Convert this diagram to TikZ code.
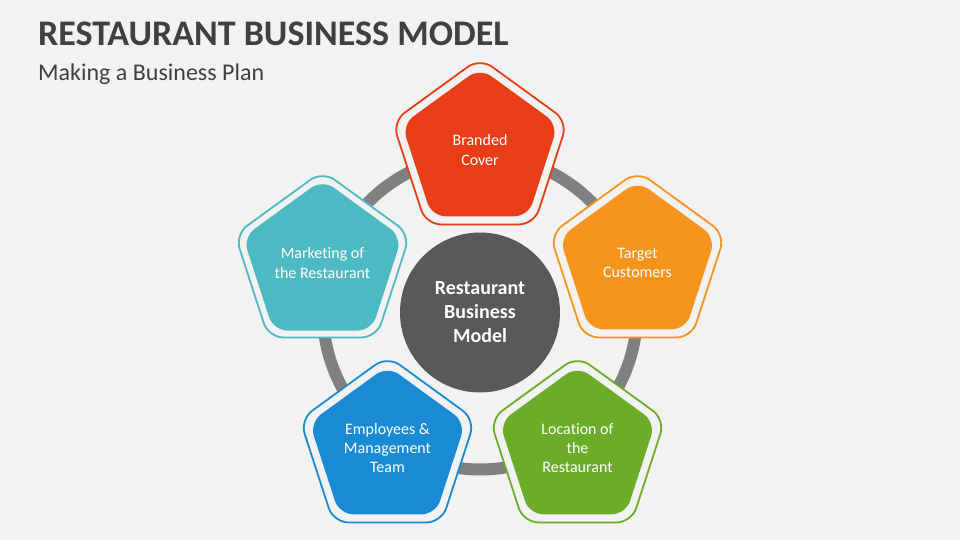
\documentclass[tikz,border=0pt]{standalone}
\usepackage{fontspec}
\setmainfont[Ligatures=NoCommon]{Carlito}
\usetikzlibrary{shapes.geometric}
\definecolor{bg}{HTML}{F2F2F2}
\definecolor{titlegray}{HTML}{404040}
\definecolor{ringgray}{HTML}{808080}
\definecolor{hubgray}{HTML}{595959}
\definecolor{cred}{HTML}{E83D16}
\definecolor{corange}{HTML}{F7941E}
\definecolor{cgreen}{HTML}{6BAD28}
\definecolor{cblue}{HTML}{1A8AD5}
\definecolor{cteal}{HTML}{4DB9C2}
\tikzset{
  penout/.style={regular polygon, regular polygon sides=5, minimum size=184pt,
    inner sep=0pt, fill=bg, draw=#1, line width=1.8pt, rounded corners=15pt},
  penin/.style={regular polygon, regular polygon sides=5, minimum size=164pt,
    inner sep=0pt, fill=#1, rounded corners=14pt, text=white, align=center,
    font=\fontsize{16}{19.2}\selectfont},
  hub/.style={circle, minimum size=160pt, inner sep=0pt, fill=hubgray, text=white,
    align=center, font=\fontsize{20}{24}\selectfont\bfseries},
}
\begin{document}
\begin{tikzpicture}[x=1pt,y=-1pt]
\useasboundingbox (0,0) rectangle (960,540);
\fill[bg] (0,0) rectangle (960,540);
\node[anchor=base west, inner sep=0pt, text=titlegray, font=\fontsize{36}{40}\selectfont\bfseries] (title) at (38,46) {RESTAURANT BUSINESS MODEL};
\node[anchor=base west, inner sep=0pt, text=titlegray, font=\fontsize{24}{28}\selectfont] (subtitle) at (38,81) {Making a Business Plan};
\coordinate (c) at (480,312.5);
\draw[ringgray, line width=12pt] (c) circle (157pt);
\node[penout=cred] (p1o) at (480,150) {};
\node[penin=cred] (p1) at (480,150) {Branded\\Cover};
\node[penout=corange] (p2o) at (637.5,263) {};
\node[penin=corange] (p2) at (637.5,263) {Target\\Customers};
\node[penout=cgreen] (p3o) at (577.5,448) {};
\node[penin=cgreen] (p3) at (577.5,448) {Location of\\the\\Restaurant};
\node[penout=cblue] (p4o) at (387.5,448) {};
\node[penin=cblue] (p4) at (387.5,448) {Employees \&\\Management\\Team};
\node[penout=cteal] (p5o) at (322.5,263) {};
\node[penin=cteal] (p5) at (322.5,263) {Marketing of\\the Restaurant};
\node[hub] (hubnode) at (c) {Restaurant\\Business\\Model};
\end{tikzpicture}
\end{document}
